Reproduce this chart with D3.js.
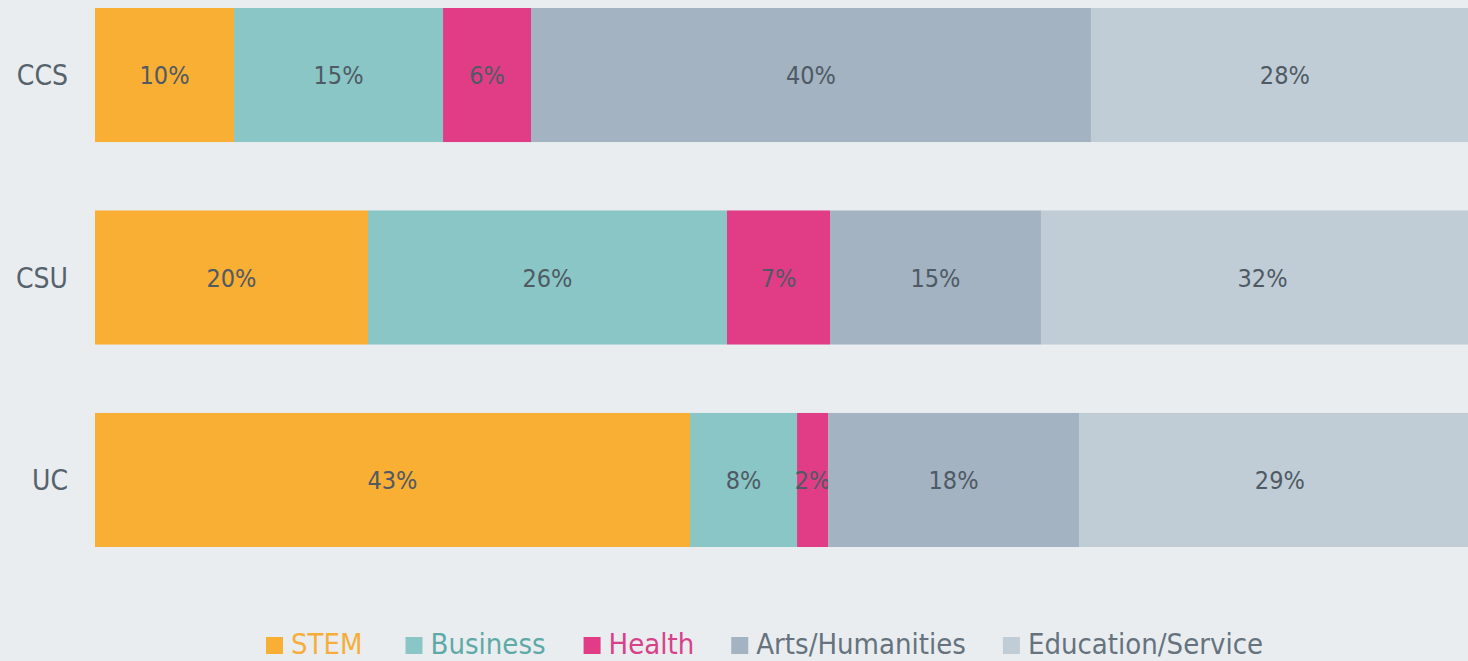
<!DOCTYPE html>
<html>
<head>
<meta charset="utf-8">
<script src="https://cdn.jsdelivr.net/npm/d3@7"></script>
<style>
  body { margin: 0; background: #e9edf0; overflow: hidden; }
  svg { display: block; font-family: "Liberation Sans Narrow", "DejaVu Sans Condensed", "Roboto", sans-serif; }
  .cat { fill: #56626c; font-size: 28px; }
  .val { fill: #4f5a64; font-size: 25px; }
  .legText { font-size: 29px; }
</style>
</head>
<body>
<script>
// systems (rows) and majors (stack order)
var systems = ["CCS", "CSU", "UC"];
var majors = ["STEM", "Business", "Health", "Arts/Humanities", "Education/Service"];

// share of degrees per system, in percent
var stemVals = [10.04, 19.71, 42.96];
var businessVals = [15.09, 25.92, 7.73];
var healthVals = [6.35, 7.44, 2.24];
var artsVals = [40.43, 15.23, 18.12];
var eduVals = [28.0, 32.0, 29.0];

var fillColors = ["#f9ae34", "#8ac6c5", "#e03d86", "#a3b3c1", "#c1cdd6"];
var textColors = ["#f6ad3a", "#5eaaa7", "#d8418a", "#66737e", "#66737e"];

(function(){
  var width = 1468, height = 661;

  var svg = d3.select("body").append("svg")
    .attr("width", width)
    .attr("height", height);

  // build rows for the stack
  var table = systems.map(function(s, i){
    return {
      system: s,
      "STEM": stemVals[i],
      "Business": businessVals[i],
      "Health": healthVals[i],
      "Arts/Humanities": artsVals[i],
      "Education/Service": eduVals[i]
    };
  });

  var stack = d3.stack().keys(majors)(table);

  // 100% would reach past the right edge, the picture is cut there
  var x = d3.scaleLinear().domain([0, 100]).range([95, 1480]);
  var y = d3.scaleBand().domain(systems).range([8, 547]).paddingInner(0.338).paddingOuter(0);
  var color = d3.scaleOrdinal().domain(majors).range(fillColors);

  var layers = svg.selectAll(".layer")
    .data(stack)
    .enter().append("g")
    .attr("class", "layer")
    .attr("fill", function(d){ return color(d.key); });

  layers.selectAll("rect")
    .data(function(d){ return d; })
    .enter().append("rect")
    .attr("x", function(d){ return x(d[0]); })
    .attr("width", function(d){ return x(d[1]) - x(d[0]); })
    .attr("y", function(d){ return y(d.data.system); })
    .attr("height", y.bandwidth());

  // value labels, centred in each segment
  layers.selectAll(".val")
    .data(function(d){ return d; })
    .enter().append("text")
    .attr("class", "val")
    .attr("text-anchor", "middle")
    .attr("x", function(d){ return (x(d[0]) + x(d[1])) / 2; })
    .attr("y", function(d){ return y(d.data.system) + y.bandwidth() / 2 + 9; })
    .text(function(d){ return Math.round(d[1] - d[0]) + "%"; });

  // category labels on the left
  svg.selectAll(".cat")
    .data(systems)
    .enter().append("text")
    .attr("class", "cat")
    .attr("text-anchor", "end")
    .attr("x", 68)
    .attr("y", function(d){ return y(d) + y.bandwidth() / 2 + 10; })
    .text(function(d){ return d; });

  // legend along the bottom
  var legend = svg.append("g").attr("class", "legend");
  var lx = 266;
  var gaps = [43, 38, 37, 37, 0];
  majors.forEach(function(m, i){
    legend.append("rect")
      .attr("x", lx)
      .attr("y", 637)
      .attr("width", 17)
      .attr("height", 17)
      .attr("fill", fillColors[i]);
    var t = legend.append("text")
      .attr("class", "legText")
      .attr("x", lx + 25)
      .attr("y", 654)
      .attr("fill", textColors[i])
      .text(m);
    lx = lx + 25 + t.node().getComputedTextLength() + gaps[i];
  });
})();
</script>
</body>
</html>
